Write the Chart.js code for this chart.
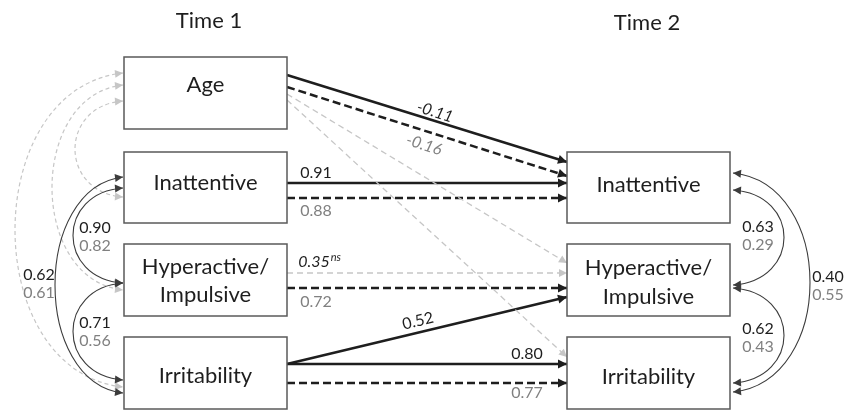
<!DOCTYPE html>
<html>
<head>
<meta charset="utf-8">
<script src="https://cdn.jsdelivr.net/npm/chart.js@4"></script>
<style>
  html, body { margin: 0; padding: 0; background: #fff; }
  #wrap { width: 844px; height: 413px; }
</style>
</head>
<body>
<div id="wrap"><canvas id="diagram" width="844" height="413"></canvas></div>
<script>
// Data
const timeLabels = ['Time 1', 'Time 2'];
const covariate = 'Age';
const constructs = ['Inattentive', 'Hyperactive/\nImpulsive', 'Irritability'];

// Age -> Inattentive (T2): black group, gray group
const ageToInattentive = [-0.11, -0.16];
// Stability paths T1 -> T2 (Inattentive, Hyperactive, Irritability)
const stabilityBlack = [0.91, 0.35, 0.80];
const stabilityGray = [0.88, 0.72, 0.77];
const stabilitySig = [true, false, true];
// Cross-lag Irritability (T1) -> Hyperactive (T2)
const irritabilityToHyperactive = [0.52];
// Correlations: Inatt-Hyp, Hyp-Irr, Inatt-Irr
const corrTime1Black = [0.90, 0.71, 0.62];
const corrTime1Gray = [0.82, 0.56, 0.61];
const corrTime2Black = [0.63, 0.62, 0.40];
const corrTime2Gray = [0.29, 0.43, 0.55];

// Layout
const W = 844, H = 413;
const LX0 = 124, LX1 = 287, RX0 = 567, RX1 = 730;
const rows = { age: [57, 129], inatt: [152, 223], hyp: [244, 316], irr: [337, 409] };
const BLACK = '#1e1e1e', GRAY = '#808080', LIGHT = '#c6c6c6', CURVE = '#3c3c3c';
const FONT = 'Lato, "Open Sans", sans-serif';
const NUM = 16;

const styles = {
  solid: { color: BLACK, width: 2.5, dash: [] },
  dash: { color: BLACK, width: 2.5, dash: [8, 4] },
  light: { color: LIGHT, width: 1.3, dash: [6, 4] }
};

// straight paths: y at left box edge, y at right box edge
const paths = [
  { y0: 75, y1: 162, style: 'solid', v: ageToInattentive[0], color: BLACK, lx: 435, ly: 112, rot: true, italic: true },
  { y0: 87, y1: 176, style: 'dash', v: ageToInattentive[1], color: GRAY, lx: 424, ly: 145, rot: true, italic: true },
  { y0: 94, y1: 263, style: 'light' },
  { y0: 100, y1: 357, style: 'light' },
  { y0: 183, y1: 183, style: stabilitySig[0] ? 'solid' : 'light', v: stabilityBlack[0], color: BLACK, lx: 316, ly: 173 },
  { y0: 198, y1: 198, style: 'dash', v: stabilityGray[0], color: GRAY, lx: 316, ly: 211 },
  { y0: 273, y1: 273, style: stabilitySig[1] ? 'solid' : 'light', v: stabilityBlack[1], color: BLACK, lx: 314, ly: 262, italic: true, ns: !stabilitySig[1] },
  { y0: 288, y1: 288, style: 'dash', v: stabilityGray[1], color: GRAY, lx: 316, ly: 302 },
  { y0: 364, y1: 297, style: 'solid', v: irritabilityToHyperactive[0], color: BLACK, lx: 418, ly: 321, rot: true },
  { y0: 364, y1: 364, style: stabilitySig[2] ? 'solid' : 'light', v: stabilityBlack[2], color: BLACK, lx: 527, ly: 354 },
  { y0: 383, y1: 383, style: 'dash', v: stabilityGray[2], color: GRAY, lx: 527, ly: 393 }
];

// curved two-headed arrows (x = tip, ext = furthest x of curve)
const curves = [
  // Time 1 covariances with Age (light dashed)
  { x: LX0 - 1, y0: 73, y1: 387, ext: 15, light: true },
  { x: LX0 - 1, y0: 85, y1: 290, ext: 52, light: true },
  { x: LX0 - 1, y0: 101, y1: 197, ext: 75, light: true },
  // Time 1 correlations
  { x: LX0 - 1, y0: 188, y1: 283, ext: 73, b: corrTime1Black[0], g: corrTime1Gray[0], lx: 95, ly: 228 },
  { x: LX0 - 1, y0: 283, y1: 380, ext: 73, b: corrTime1Black[1], g: corrTime1Gray[1], lx: 95, ly: 323 },
  { x: LX0 - 1, y0: 177, y1: 393, ext: 55, b: corrTime1Black[2], g: corrTime1Gray[2], lx: 39, ly: 275 },
  // Time 2 correlations
  { x: RX1 + 3, y0: 190, y1: 285, ext: 784, b: corrTime2Black[0], g: corrTime2Gray[0], lx: 758, ly: 227 },
  { x: RX1 + 3, y0: 288, y1: 383, ext: 784, b: corrTime2Black[1], g: corrTime2Gray[1], lx: 758, ly: 329 },
  { x: RX1 + 3, y0: 173, y1: 392, ext: 810, b: corrTime2Black[2], g: corrTime2Gray[2], lx: 828, ly: 277 }
];

const boxes = [
  { x0: LX0, x1: LX1, r: rows.age, text: covariate, ty: [85] },
  { x0: LX0, x1: LX1, r: rows.inatt, text: constructs[0], ty: [183] },
  { x0: LX0, x1: LX1, r: rows.hyp, text: constructs[1], ty: [267, 295] },
  { x0: LX0, x1: LX1, r: rows.irr, text: constructs[2], ty: [376] },
  { x0: RX0, x1: RX1, r: rows.inatt, text: constructs[0], ty: [185] },
  { x0: RX0, x1: RX1, r: rows.hyp, text: constructs[1], ty: [268, 297] },
  { x0: RX0, x1: RX1, r: rows.irr, text: constructs[2], ty: [377] }
];

function fmt(v) { return v.toFixed(2); }

const datasets = paths.map(p => {
  const s = styles[p.style];
  return {
    data: [{ x: LX1, y: p.y0 }, { x: RX0, y: p.y1 }],
    showLine: true,
    pointRadius: 0,
    borderColor: s.color,
    borderWidth: s.width,
    borderDash: s.dash,
    fill: false,
    clip: false
  };
});

function arrowHead(ctx, x, y, ang, color, len, half) {
  ctx.save();
  ctx.translate(x, y);
  ctx.rotate(ang);
  ctx.fillStyle = color;
  ctx.beginPath();
  ctx.moveTo(0, 0);
  ctx.lineTo(-len, -half);
  ctx.lineTo(-len, half);
  ctx.closePath();
  ctx.fill();
  ctx.restore();
}

function text(ctx, str, x, y, color, size, italic, align) {
  ctx.font = (italic ? 'italic ' : '') + size + 'px ' + FONT;
  ctx.fillStyle = color;
  ctx.textAlign = align || 'center';
  ctx.textBaseline = 'middle';
  ctx.fillText(str, x, y);
}

const diagramPlugin = {
  id: 'diagram',
  beforeDatasetsDraw(chart) {
    const ctx = chart.ctx;
    const xs = chart.scales.x, ys = chart.scales.y;
    const px = v => xs.getPixelForValue(v), py = v => ys.getPixelForValue(v);
    ctx.save();
    curves.forEach(c => {
      const cx = (c.ext - 0.25 * c.x) / 0.75;
      const k = (c.y1 - c.y0) * 0.05;
      const p0 = [px(c.x), py(c.y0)], c1 = [px(cx), py(c.y0 + k)];
      const c2 = [px(cx), py(c.y1 - k)], p3 = [px(c.x), py(c.y1)];
      const col = c.light ? LIGHT : CURVE;
      ctx.strokeStyle = col;
      ctx.lineWidth = c.light ? 1.2 : 1.1;
      ctx.setLineDash(c.light ? [4, 3] : []);
      ctx.beginPath();
      ctx.moveTo(p0[0], p0[1]);
      ctx.bezierCurveTo(c1[0], c1[1], c2[0], c2[1], p3[0], p3[1]);
      ctx.stroke();
      ctx.setLineDash([]);
      const a0 = Math.atan2(p0[1] - c1[1], p0[0] - c1[0]);
      const a1 = Math.atan2(p3[1] - c2[1], p3[0] - c2[0]);
      arrowHead(ctx, p0[0], p0[1], a0, col, 8, 4);
      arrowHead(ctx, p3[0], p3[1], a1, col, 8, 4);
      if (c.b !== undefined) {
        text(ctx, fmt(c.b), px(c.lx), py(c.ly), BLACK, NUM);
        text(ctx, fmt(c.g), px(c.lx), py(c.ly + 18), GRAY, NUM);
      }
    });
    ctx.restore();
  },
  afterDatasetsDraw(chart) {
    const ctx = chart.ctx;
    const xs = chart.scales.x, ys = chart.scales.y;
    const px = v => xs.getPixelForValue(v), py = v => ys.getPixelForValue(v);
    ctx.save();
    // arrowheads on straight paths
    paths.forEach((p, i) => {
      const pts = chart.getDatasetMeta(i).data;
      const a = pts[0], b = pts[1];
      const ang = Math.atan2(b.y - a.y, b.x - a.x);
      const s = styles[p.style];
      arrowHead(ctx, b.x, b.y, ang, s.color, p.style === 'light' ? 8 : 9, p.style === 'light' ? 4 : 4.5);
    });
    // boxes
    boxes.forEach(bx => {
      const x0 = px(bx.x0), x1 = px(bx.x1), y0 = py(bx.r[0]), y1 = py(bx.r[1]);
      ctx.fillStyle = '#fff';
      ctx.fillRect(x0, y0, x1 - x0, y1 - y0);
      ctx.strokeStyle = '#5a5a5a';
      ctx.lineWidth = 1.5;
      ctx.strokeRect(x0, y0, x1 - x0, y1 - y0);
      const lines = bx.text.split('\n');
      lines.forEach((ln, j) => text(ctx, ln, (x0 + x1) / 2, py(bx.ty[j]), BLACK, 22));
    });
    // path labels
    paths.forEach((p, i) => {
      if (p.v === undefined) return;
      const pts = chart.getDatasetMeta(i).data;
      const ang = p.rot ? Math.atan2(pts[1].y - pts[0].y, pts[1].x - pts[0].x) : 0;
      ctx.save();
      ctx.translate(px(p.lx), py(p.ly));
      ctx.rotate(ang);
      const str = fmt(p.v);
      text(ctx, str, 0, 0, p.color, NUM, p.italic);
      if (p.ns) {
        const w = ctx.measureText(str).width;
        text(ctx, 'ns', w / 2 + 1, -5, p.color, 11, true, 'left');
      }
      ctx.restore();
    });
    // time headers
    text(ctx, timeLabels[0], px(209), py(21), BLACK, 22);
    text(ctx, timeLabels[1], px(647), py(23), BLACK, 22);
    ctx.restore();
  }
};

new Chart(document.getElementById('diagram'), {
  type: 'scatter',
  data: { datasets: datasets },
  options: {
    responsive: false,
    animation: false,
    events: [],
    layout: { padding: 0 },
    plugins: { legend: { display: false }, tooltip: { enabled: false } },
    scales: {
      x: { type: 'linear', min: 0, max: W, display: false },
      y: { type: 'linear', min: 0, max: H, reverse: true, display: false }
    }
  },
  plugins: [diagramPlugin]
});
</script>
</body>
</html>
